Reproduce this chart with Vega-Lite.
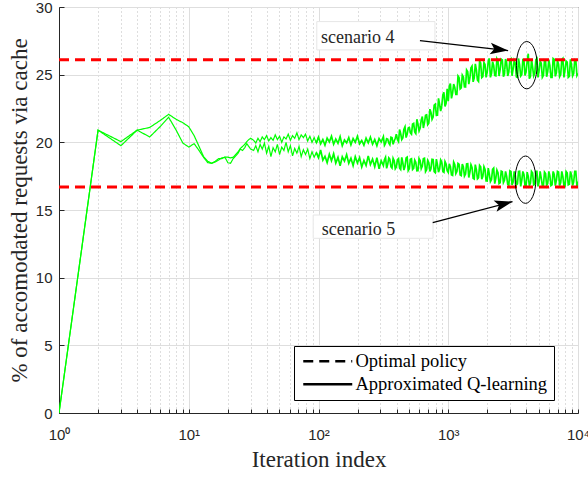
{
"$schema": "https://vega.github.io/schema/vega-lite/v6.json",
"width": 519, "height": 406,
"autosize": {"type": "none"},
"padding": {"left": 59, "top": 7, "right": 10, "bottom": 64},
"background": "white",
"config": {
  "view": {"stroke": "#262626", "strokeWidth": 1},
  "axis": {"domainColor": "#262626", "tickColor": "#262626", "labelColor": "#262626", "titleColor": "#262626", "labelFont": "Liberation Sans", "labelFontSize": 15, "titleFont": "Liberation Serif", "titleFontSize": 23, "titleFontWeight": "normal", "labelFlush": false, "labelOverlap": false}
},
"datasets": {
  "sim": [
    {"x":1,"a":0,"b":0},{"x":2,"a":20.9,"b":20.9},{"x":3,"a":20.05,"b":19.75},{"x":4,"a":20.9,"b":20.9},{"x":5,"a":21.1,"b":20.4},{"x":6,"a":21.6,"b":21.15},{"x":7,"a":22.07,"b":21.85},{"x":8,"a":21.7,"b":20.9},{"x":9,"a":21.45,"b":19.95},{"x":10,"a":21.15,"b":19.65},{"x":11,"a":20.5,"b":19.9},{"x":12,"a":19.7,"b":19.4},{"x":13,"a":18.95,"b":18.9},{"x":14,"a":18.6,"b":18.5},{"x":15,"a":18.45,"b":18.45},{"x":16,"a":18.55,"b":18.6},{"x":17,"a":18.7,"b":18.8},{"x":18,"a":18.85,"b":18.8},{"x":19,"a":18.9,"b":18.9},{"x":20,"a":18.9,"b":18.5},{"x":21,"a":18.85,"b":18.45},{"x":22,"a":18.9,"b":18.8},{"x":23,"a":19.1,"b":19.0},{"x":24,"a":19.3,"b":19.2},{"x":25,"a":19.55,"b":19.5},{"x":26,"a":19.7,"b":19.4},{"x":27,"a":19.85,"b":19.6},{"x":28,"a":20.05,"b":19.9},{"x":29,"a":20.2,"b":19.7},{"x":30,"a":20.3,"b":19.5},
    {"x":31.62,"a":20.15,"b":19.4},{"x":32.86,"a":19.95,"b":19.75},{"x":34.15,"a":20.3,"b":19.3},{"x":35.48,"a":20.05,"b":19.85},{"x":36.87,"a":20.4,"b":19.5},{"x":38.31,"a":20.2,"b":19.95},{"x":39.81,"a":20.5,"b":19.2},{"x":41.37,"a":20.1,"b":19.7},{"x":42.99,"a":20.35,"b":18.95},{"x":44.67,"a":20.15,"b":19.6},{"x":46.42,"a":20.55,"b":19.3},{"x":48.23,"a":20.2,"b":19.85},{"x":50.12,"a":20.45,"b":19.1},{"x":52.08,"a":20.0,"b":19.65},{"x":54.12,"a":20.4,"b":19.4},{"x":56.23,"a":20.25,"b":20.0},{"x":58.43,"a":20.6,"b":19.3},{"x":60.72,"a":20.15,"b":19.75},{"x":63.1,"a":20.5,"b":19.0},{"x":65.56,"a":20.3,"b":19.55},{"x":68.13,"a":20.7,"b":19.2},{"x":70.79,"a":20.2,"b":19.7},{"x":73.56,"a":20.55,"b":18.95},{"x":76.44,"a":20.35,"b":19.45},{"x":79.43,"a":20.6,"b":19.1},{"x":82.54,"a":20.1,"b":19.5},{"x":85.77,"a":20.45,"b":18.8},{"x":89.13,"a":20.0,"b":19.3},{"x":92.61,"a":20.35,"b":18.9},{"x":96.24,"a":19.95,"b":19.25},
    {"x":100,"a":20.38,"b":18.87},{"x":103.9,"a":19.89,"b":19.43},{"x":108,"a":20.21,"b":18.68},{"x":112.2,"a":19.79,"b":18.97},{"x":116.6,"a":20.31,"b":18.5},{"x":121.2,"a":20.03,"b":19.12},{"x":125.9,"a":20.45,"b":18.64},{"x":130.8,"a":19.86,"b":19.16},{"x":135.9,"a":20.24,"b":18.46},{"x":141.3,"a":19.93,"b":18.89},{"x":146.8,"a":20.42,"b":18.27},{"x":152.5,"a":19.75,"b":18.93},{"x":158.5,"a":20.17,"b":18.61},{"x":164.7,"a":19.96,"b":19.09},{"x":171.1,"a":20.35,"b":18.45},{"x":177.8,"a":19.82,"b":18.83},{"x":184.8,"a":20.28,"b":18.28},{"x":192,"a":20.0,"b":18.94},{"x":199.5,"a":20.45,"b":18.47},{"x":207.3,"a":19.89,"b":18.87},{"x":215.4,"a":20.14,"b":18.18},{"x":223.9,"a":19.79,"b":18.66},{"x":232.6,"a":20.31,"b":18.29},{"x":241.7,"a":19.96,"b":19.0},{"x":251.2,"a":20.38,"b":18.36},{"x":261,"a":19.86,"b":18.76},{"x":271.2,"a":20.21,"b":18.2},{"x":281.8,"a":19.75,"b":18.87},{"x":292.9,"a":20.28,"b":18.05},{"x":304.3,"a":20.03,"b":18.64},{"x":316.2,"a":20.42,"b":18.28},{"x":328.6,"a":19.93,"b":18.9},{"x":341.5,"a":20.24,"b":18.39},{"x":354.8,"a":19.82,"b":18.74},{"x":368.7,"a":20.35,"b":18.1},{"x":383.1,"a":20.1,"b":18.64},{"x":398.1,"a":20.6,"b":18.18},{"x":413.7,"a":20.05,"b":18.8},{"x":429.9,"a":20.64,"b":17.99},{"x":446.7,"a":20.33,"b":18.48},{"x":464.2,"a":21.15,"b":18.22},{"x":482.3,"a":20.6,"b":18.91},{"x":501.2,"a":21.1,"b":18.05},{"x":520.8,"a":20.6,"b":18.79},{"x":541.2,"a":21.4,"b":18.08},{"x":562.3,"a":20.65,"b":18.52},{"x":584.3,"a":21.35,"b":17.91},{"x":607.2,"a":21.05,"b":18.65},{"x":631,"a":21.9,"b":18.24},{"x":655.6,"a":21.44,"b":18.83},{"x":681.3,"a":22.03,"b":17.97},{"x":707.9,"a":21.41,"b":18.51},{"x":735.6,"a":22.22,"b":18.05},{"x":764.4,"a":21.87,"b":18.73},{"x":794.3,"a":22.82,"b":17.76},{"x":825.4,"a":22.01,"b":18.34},{"x":857.7,"a":22.81,"b":18.02},{"x":891.3,"a":22.71,"b":18.55},{"x":926.1,"a":23.7,"b":17.78},{"x":962.4,"a":22.88,"b":18.4},
    {"x":1000,"a":23.04,"b":17.77},{"x":1039,"a":24.35,"b":18.19},{"x":1080,"a":23.64,"b":17.56},{"x":1122,"a":24.07,"b":18.37},{"x":1166,"a":23.55,"b":17.85},{"x":1211,"a":24.79,"b":18.39},{"x":1259,"a":24.03,"b":17.54},{"x":1308,"a":24.83,"b":18.18},{"x":1359,"a":24.09,"b":17.66},{"x":1413,"a":25.22,"b":18.42},{"x":1468,"a":24.76,"b":17.79},{"x":1525,"a":25.63,"b":18.15},{"x":1585,"a":24.75,"b":17.29},{"x":1647,"a":25.36,"b":17.98},{"x":1711,"a":24.5,"b":17.39},{"x":1778,"a":25.86,"b":18.19},{"x":1848,"a":24.86,"b":17.5},{"x":1920,"a":25.75,"b":18.01},{"x":1995,"a":25.17,"b":17.14},{"x":2073,"a":26.2,"b":17.66},{"x":2154,"a":25.08,"b":17.24},{"x":2239,"a":25.69,"b":18.09},{"x":2326,"a":24.92,"b":17.34},{"x":2417,"a":26.02,"b":17.76},{"x":2512,"a":25.39,"b":17.01},{"x":2610,"a":26.09,"b":17.82},{"x":2712,"a":25.04,"b":17.19},{"x":2818,"a":25.88,"b":17.5},{"x":2929,"a":25.2,"b":16.82},{"x":3043,"a":26.18,"b":17.85},{"x":3162,"a":25.41,"b":17.06},{"x":3286,"a":25.85,"b":17.55},{"x":3415,"a":24.8,"b":16.93},{"x":3548,"a":25.71,"b":17.86},{"x":3687,"a":25.01,"b":17.19},{"x":3831,"a":26.06,"b":17.63},{"x":3981,"a":25.22,"b":16.8},{"x":4137,"a":26.55,"b":17.47},{"x":4299,"a":24.87,"b":16.97},{"x":4467,"a":25.57,"b":17.74},{"x":4642,"a":25.08,"b":16.91},{"x":4823,"a":26.2,"b":17.85},{"x":5012,"a":25.29,"b":17.08},{"x":5208,"a":25.85,"b":17.36},{"x":5412,"a":24.94,"b":16.8},{"x":5623,"a":25.99,"b":17.69},{"x":5843,"a":25.22,"b":16.97},{"x":6072,"a":25.64,"b":17.52},{"x":6310,"a":24.8,"b":16.86},{"x":6556,"a":26.13,"b":17.63},{"x":6813,"a":25.15,"b":17.19},{"x":7079,"a":25.78,"b":17.8},{"x":7356,"a":25.01,"b":17.02},{"x":7644,"a":26.2,"b":17.47},{"x":7943,"a":25.36,"b":16.75},{"x":8254,"a":25.92,"b":17.74},{"x":8577,"a":24.87,"b":16.91},{"x":8913,"a":25.71,"b":17.58},{"x":9261,"a":25.08,"b":17.08},{"x":9624,"a":26.06,"b":17.85},{"x":10000,"a":25.1,"b":17.1},
    {"x":322.3,"a":19.78,"b":18.72},{"x":335,"a":20.27,"b":18.08},{"x":348.1,"a":19.96,"b":18.85},{"x":361.7,"a":20.38,"b":18.2},{"x":375.8,"a":19.85,"b":18.82},{"x":390.5,"a":20.3,"b":18.05},{"x":405.8,"a":20.2,"b":18.72},{"x":421.7,"a":20.95,"b":18.1},{"x":438.2,"a":20.2,"b":18.89},{"x":455.4,"a":20.97,"b":17.95},{"x":473.2,"a":20.35,"b":18.85},{"x":491.6,"a":21.06,"b":17.91},{"x":510.9,"a":20.7,"b":18.75},{"x":530.9,"a":21.36,"b":17.99},{"x":551.7,"a":20.76,"b":18.68},{"x":573.2,"a":21.71,"b":17.9},{"x":595.6,"a":20.85,"b":18.81},{"x":619,"a":21.65,"b":18.05},{"x":643.2,"a":21.06,"b":18.8},{"x":668.3,"a":22.0,"b":17.83},{"x":694.5,"a":21.3,"b":18.67},{"x":721.6,"a":22.45,"b":17.85},{"x":749.9,"a":21.7,"b":18.75},{"x":779.2,"a":22.75,"b":17.83},{"x":809.7,"a":22.0,"b":18.76},{"x":841.4,"a":23.25,"b":17.8},{"x":874.3,"a":22.3,"b":18.7},{"x":908.6,"a":23.5,"b":17.85},{"x":944.1,"a":22.65,"b":18.58},{"x":981,"a":23.95,"b":17.9},
    {"x":1019,"a":24.15,"b":18.41},{"x":1059,"a":23.25,"b":17.6},{"x":1101,"a":24.3,"b":18.54},{"x":1144,"a":23.55,"b":17.69},{"x":1189,"a":24.9,"b":18.45},{"x":1235,"a":23.95,"b":17.59},{"x":1283,"a":24.97,"b":18.4},{"x":1333,"a":24.1,"b":17.5},{"x":1385,"a":25.35,"b":18.4},{"x":1440,"a":24.3,"b":17.4},{"x":1496,"a":25.5,"b":18.35},{"x":1555,"a":24.47,"b":17.35},{"x":1616,"a":25.8,"b":18.35},{"x":1679,"a":24.6,"b":17.3},{"x":1744,"a":26.0,"b":18.3},{"x":1813,"a":24.78,"b":17.27},{"x":1884,"a":25.9,"b":18.2},{"x":1957,"a":24.8,"b":17.15},{"x":2034,"a":26.0,"b":18.1},{"x":2113,"a":24.8,"b":17.1},{"x":2196,"a":25.96,"b":18.0},{"x":2282,"a":24.95,"b":16.95},{"x":2371,"a":26.18,"b":17.95},{"x":2464,"a":24.9,"b":16.95},{"x":2561,"a":26.15,"b":17.87},{"x":2661,"a":24.85,"b":17.02},{"x":2765,"a":26.16,"b":17.85},{"x":2873,"a":24.9,"b":16.9},{"x":2986,"a":26.1,"b":17.9},{"x":3102,"a":24.92,"b":16.85},{"x":3223,"a":26.05,"b":17.85},{"x":3350,"a":24.85,"b":16.85},{"x":3481,"a":26.2,"b":17.85},{"x":3617,"a":24.9,"b":16.74},{"x":3758,"a":26.1,"b":17.85},{"x":3905,"a":24.94,"b":16.8},{"x":4058,"a":26.0,"b":17.8},{"x":4217,"a":24.7,"b":16.8},{"x":4382,"a":26.13,"b":17.85},{"x":4554,"a":24.9,"b":16.86},{"x":4732,"a":26.1,"b":17.85},{"x":4916,"a":24.8,"b":16.75},{"x":5109,"a":26.0,"b":17.85},{"x":5309,"a":24.8,"b":16.8},{"x":5517,"a":26.06,"b":17.8},{"x":5732,"a":24.85,"b":16.8},{"x":5956,"a":26.1,"b":17.85},{"x":6190,"a":24.8,"b":16.8},{"x":6432,"a":26.2,"b":17.85},{"x":6683,"a":24.87,"b":16.8},{"x":6945,"a":26.05,"b":17.85},{"x":7216,"a":24.85,"b":16.8},{"x":7499,"a":26.1,"b":17.85},{"x":7792,"a":24.8,"b":16.8},{"x":8097,"a":26.0,"b":17.85},{"x":8414,"a":24.8,"b":16.86},{"x":8743,"a":26.13,"b":17.85},{"x":9086,"a":24.9,"b":16.8},{"x":9441,"a":26.1,"b":17.85},{"x":9811,"a":24.94,"b":16.75}
  ],
  "opt": [{"x":1,"xe":10000,"y":26.1},{"x":1,"xe":10000,"y":16.7}],
  "boxes": [{"x":97,"xe":790,"y":26.83,"ye":28.92},{"x":91,"xe":763,"y":12.91,"ye":14.63}],
  "notes": [{"x":104.4,"y":27.37,"label":"scenario 4"},{"x":106,"y":13.16,"label":"scenario 5"}],
  "arrows": [{"x":605,"y":27.52,"xe":2894,"ye":26.78},{"x":759,"y":14.07,"xe":3128,"ye":15.62}],
  "ellipses": [{"x":4030,"y":25.7},{"x":3938,"y":17.24}]
},
"encoding": {
  "x": {"field": "x", "type": "quantitative", "scale": {"type": "log", "domain": [1, 10000], "nice": false},
    "axis": {"title": "Iteration index", "values": [1,2,3,4,5,6,7,8,9,10,20,30,40,50,60,70,80,90,100,200,300,400,500,600,700,800,900,1000,2000,3000,4000,5000,6000,7000,8000,9000,10000],
      "labelExpr": "datum.value == 1 ? '10⁰' : datum.value == 10 ? '10¹' : datum.value == 100 ? '10²' : datum.value == 1000 ? '10³' : datum.value == 10000 ? '10⁴' : ''",
      "grid": true,
      "gridColor": {"condition": {"test": "datum.value == 1 || datum.value == 10 || datum.value == 100 || datum.value == 1000 || datum.value == 10000", "value": "#dedede"}, "value": "#bdbdbd"},
      "gridDash": {"condition": {"test": "datum.value == 1 || datum.value == 10 || datum.value == 100 || datum.value == 1000 || datum.value == 10000", "value": []}, "value": [1, 3]},
      "tickSize": -4, "labelPadding": 18, "titlePadding": 6}},
  "y": {"field": "y", "type": "quantitative", "scale": {"domain": [0, 30], "nice": false, "zero": false},
    "axis": {"title": "% of accomodated requests via cache", "values": [0,5,10,15,20,25,30], "grid": true, "gridColor": "#dedede", "tickSize": -5, "labelPadding": 12, "titlePadding": 4}}
},
"layer": [
  {"data": {"name": "boxes"}, "mark": {"type": "rect", "fill": "white", "stroke": "#e6e6e6", "strokeWidth": 1},
   "encoding": {"x2": {"field": "xe"}, "y2": {"field": "ye"}}},
  {"data": {"name": "sim"}, "transform": [{"filter": "datum.x <= 100"}, {"fold": ["a", "b"], "as": ["series", "y"]}],
   "mark": {"type": "line", "color": "#00ff00", "strokeWidth": 1.2, "clip": true},
   "encoding": {"detail": {"field": "series"},
     "strokeDash": {"datum": "Approximated Q-learning", "type": "nominal"}}},
  {"data": {"name": "sim"}, "transform": [{"filter": "datum.x >= 96"}, {"fold": ["a", "b"], "as": ["series", "y"]}],
   "mark": {"type": "line", "color": "#00ff00", "strokeWidth": 1.7, "clip": true},
   "encoding": {"detail": {"field": "series"},
     "strokeDash": {"datum": "Approximated Q-learning", "type": "nominal"}}},
  {"data": {"name": "opt"}, "mark": {"type": "rule", "color": "#ff0000", "strokeWidth": 3},
   "encoding": {"x2": {"field": "xe"},
     "strokeDash": {"datum": "Optimal policy", "type": "nominal",
       "scale": {"domain": ["Optimal policy", "Approximated Q-learning"], "range": [[10, 6], [1, 0]]},
       "legend": {"orient": "none", "legendX": 235, "legendY": 339, "title": null, "symbolType": "M-4.083,0L4.083,0", "symbolSize": 144, "symbolOffset": 18.5, "symbolStrokeWidth": 2.5, "symbolStrokeColor": "black", "labelFont": "Liberation Serif", "labelFontSize": 18.5, "labelColor": "black", "labelOffset": 18.5, "labelLimit": 400, "padding": 6, "rowPadding": 4, "strokeColor": "black", "fillColor": "white",
         "encode": {"symbols": {"update": {"stroke": {"value": "black"}, "strokeWidth": {"value": 2.5}, "fill": {"value": "transparent"}}}}}}}},
  {"data": {"name": "ellipses"}, "mark": {"type": "point", "shape": "M-0.4376,0A0.4376,1 0 1 0 0.4376,0A0.4376,1 0 1 0 -0.4376,0Z", "size": 2237, "filled": false, "stroke": "black", "strokeWidth": 1, "opacity": 1}},
  {"data": {"name": "arrows"}, "mark": {"type": "rule", "color": "black", "strokeWidth": 1.2},
   "encoding": {"x2": {"field": "xe"}, "y2": {"field": "ye"}}},
  {"data": {"values": [{"x": 2894, "y": 26.78}]}, "mark": {"type": "point", "shape": "M0,0L-2,-0.65L-1.55,0L-2,0.65Z", "size": 324, "filled": true, "color": "black", "opacity": 1, "angle": 6.5}},
  {"data": {"values": [{"x": 3128, "y": 15.62}]}, "mark": {"type": "point", "shape": "M0,0L-2,-0.65L-1.55,0L-2,0.65Z", "size": 324, "filled": true, "color": "black", "opacity": 1, "angle": -14.7}},
  {"data": {"name": "notes"}, "mark": {"type": "text", "font": "Liberation Serif", "fontSize": 18, "color": "#262626", "align": "left", "baseline": "alphabetic"},
   "encoding": {"text": {"field": "label"}}}
]
}
